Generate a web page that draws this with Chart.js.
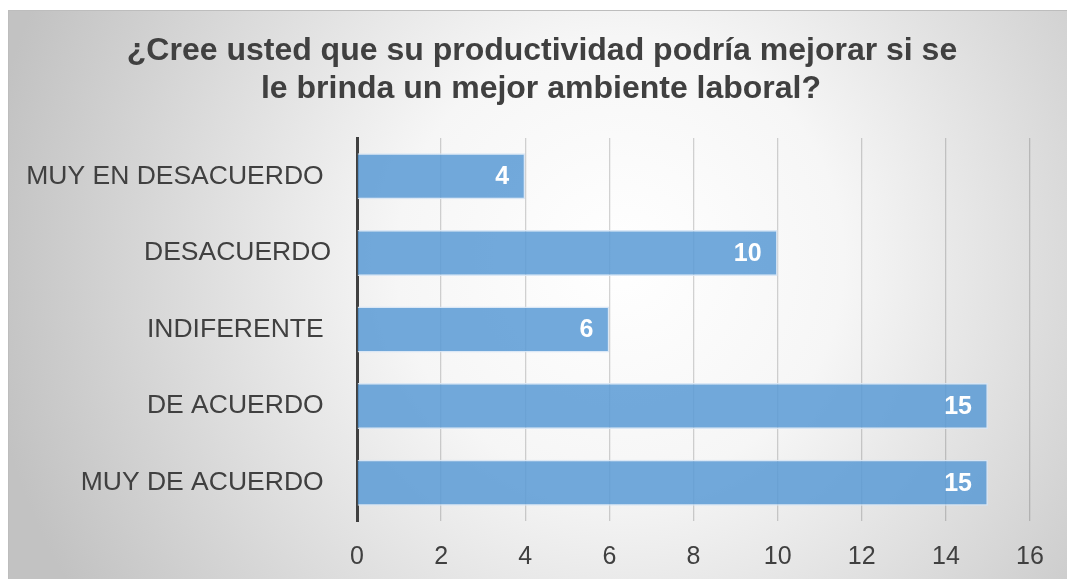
<!DOCTYPE html>
<html>
<head>
<meta charset="utf-8">
<script src="https://cdn.jsdelivr.net/npm/chart.js@4"></script>
<style>
  html, body { margin: 0; padding: 0; background: #fff; }
  #wrap { width: 1067px; height: 579px; }
</style>
</head>
<body>
<div id="wrap"><canvas id="chart" width="1067" height="579"></canvas></div>
<script>
const titleLines = ["¿Cree usted que su productividad podría mejorar si se", "le brinda un mejor ambiente laboral?"];
const categories = ["MUY EN DESACUERDO ", "DESACUERDO", "INDIFERENTE ", "DE ACUERDO ", "MUY DE ACUERDO "];
const values = [4, 10, 6, 15, 15];
const xTicks = [0, 2, 4, 6, 8, 10, 12, 14, 16];

const FONT = "'Liberation Sans', Arial, sans-serif";

// grey radial backdrop with a thin frame, plus the title
const backdrop = {
    id: "backdrop",
    beforeDraw(chart) {
        const ctx = chart.ctx;
        ctx.save();
        ctx.fillStyle = "#fff";
        ctx.fillRect(0, 0, chart.width, chart.height);
        const g = ctx.createRadialGradient(620, 260, 0, 620, 260, 640);
        g.addColorStop(0, "#ffffff");
        g.addColorStop(0.35, "#f6f6f6");
        g.addColorStop(1, "#c2c2c2");
        ctx.fillStyle = g;
        ctx.fillRect(8, 10, chart.width - 8, chart.height - 10);
        ctx.strokeStyle = "#bdbdbd";
        ctx.lineWidth = 1;
        ctx.strokeRect(8.5, 10.5, chart.width, chart.height);

        ctx.font = "bold 32px " + FONT;
        ctx.fillStyle = "#404040";
        ctx.textAlign = "center";
        ctx.textBaseline = "middle";
        ctx.fillText(titleLines[0], 542, 51);
        ctx.fillText(titleLines[1], 541, 89);
        ctx.restore();
    }
};

// white value labels inside the bar end
const valueLabels = {
    id: "valueLabels",
    afterDatasetsDraw(chart) {
        const ctx = chart.ctx;
        const meta = chart.getDatasetMeta(0);
        ctx.save();
        ctx.font = "bold 25px " + FONT;
        ctx.fillStyle = "#ffffff";
        ctx.textAlign = "right";
        ctx.textBaseline = "middle";
        meta.data.forEach((bar, i) => {
            ctx.fillText(String(values[i]), bar.x - 16, bar.y + 1);
        });
        ctx.restore();
    }
};

new Chart(document.getElementById("chart"), {
    type: "bar",
    data: {
        labels: categories,
        datasets: [{
            data: values,
            backgroundColor: "rgba(91,155,213,0.86)",
            borderColor: "rgba(215,230,245,0.9)",
            borderWidth: 1.5,
            barPercentage: 0.6,
            categoryPercentage: 1
        }]
    },
    options: {
        indexAxis: "y",
        responsive: false,
        animation: false,
        devicePixelRatio: 1,
        layout: { padding: { left: 8, right: 37, top: 138, bottom: 0 } },
        plugins: {
            legend: { display: false },
            tooltip: { enabled: false },
            title: { display: false }
        },
        scales: {
            x: {
                min: 0,
                max: 16,
                afterBuildTicks: (s) => { s.ticks = xTicks.map(v => ({ value: v })); },
                afterFit: (s) => { s.height = 58; },
                grid: { color: "rgba(0,0,0,0.17)", lineWidth: 1.3, drawTicks: false },
                border: { display: false },
                ticks: { color: "#404040", padding: 21, font: { family: FONT, size: 25 } }
            },
            y: {
                afterFit: (s) => { s.width = 349; },
                grid: { display: false, drawTicks: false },
                border: { display: true, color: "#404040", width: 3 },
                ticks: { color: "#404040", padding: 26, font: { family: FONT, size: 26.5 } }
            }
        }
    },
    plugins: [backdrop, valueLabels]
});
</script>
</body>
</html>
